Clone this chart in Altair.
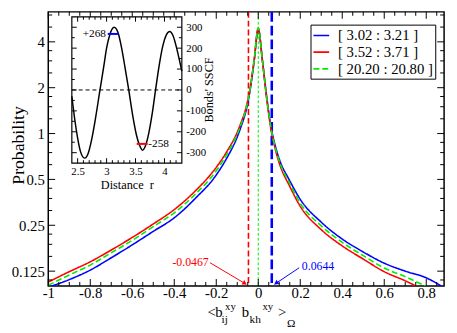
import altair as alt
import pandas as pd

# ---------------- data ----------------
series_names = ["[ 3.02 : 3.21 ]", "[ 3.52 : 3.71 ]", "[ 20.20 : 20.80 ]"]
series_colors = ["#0000ff", "#ff0000", "#00ee00"]

x_left = [-1.0, -0.9, -0.8, -0.7, -0.6, -0.5, -0.4, -0.3, -0.2, -0.15, -0.1, -0.08, -0.06, -0.04, -0.02, 0.0]
blue_left = [0.098, 0.110, 0.127, 0.153, 0.186, 0.228, 0.280, 0.375, 0.535, 0.69, 0.95, 1.13, 1.38, 1.88, 2.95, 4.85]
red_left = [0.106, 0.124, 0.144, 0.172, 0.208, 0.255, 0.317, 0.42, 0.60, 0.76, 1.02, 1.2, 1.45, 1.95, 3.0, 4.9]
green_left = [0.101, 0.118, 0.137, 0.165, 0.199, 0.245, 0.302, 0.40, 0.57, 0.73, 0.99, 1.17, 1.42, 1.92, 3.0, 4.95]

x_right = [0.02, 0.04, 0.06, 0.08, 0.1, 0.15, 0.2, 0.3, 0.4, 0.5, 0.6, 0.7, 0.8, 0.85, 0.9]
blue_right = [3.0, 1.75, 1.12, 0.84, 0.68, 0.49, 0.37, 0.262, 0.203, 0.167, 0.141, 0.125, 0.113, 0.104, 0.094]
red_right = [3.0, 1.7, 1.08, 0.80, 0.64, 0.45, 0.333, 0.234, 0.183, 0.150, 0.124, 0.108, 0.092, 0.084, 0.076]
green_right = [3.0, 1.72, 1.1, 0.82, 0.66, 0.47, 0.349, 0.248, 0.193, 0.158, 0.131, 0.115, 0.099, 0.091, 0.083]

marker_x = [-0.0467, 0.0, 0.0644]
marker_labels = ["-0.0467", "0.0644"]

# inset: bonds' SSCF vs distance
r_vals = [2.40, 2.45, 2.50, 2.55, 2.62, 2.68, 2.74, 2.80, 2.886, 2.95, 3.00, 3.06, 3.13, 3.20, 3.26, 3.32,
          3.383, 3.45, 3.52, 3.57, 3.62, 3.67, 3.73, 3.79, 3.846, 3.91, 3.97, 4.03, 4.09, 4.15, 4.21, 4.26, 4.30]
sscf_vals = [-30, -140, -230, -295, -326, -305, -240, -150, 0, 110, 200, 268, 300, 272, 200, 105,
             0, -120, -220, -265, -288, -268, -205, -110, 0, 120, 210, 262, 280, 258, 200, 140, 90]
seg_lo = [3.02, 3.52]
seg_hi = [3.21, 3.71]
seg_val = [268, -258]
seg_labels = ["+268", "-258"]

x_major = [-1.0, -0.8, -0.6, -0.4, -0.2, 0.0, 0.2, 0.4, 0.6, 0.8]
x_minor = [round(-1 + 0.05 * i, 2) for i in range(38) if i % 4 != 0]
y_major = [0.125, 0.25, 0.5, 1, 2, 4]
y_minor = [b * m for b in [0.0625, 0.125, 0.25, 0.5, 1, 2, 4] for m in (1.25, 1.5, 1.75) if 0.1 < b * m < 6.29]
ix_major = [2.5, 3.0, 3.5, 4.0]
ix_minor = [round(2.4 + 0.1 * i, 1) for i in range(1, 19) if round(2.4 + 0.1 * i, 1) not in ix_major]
iy_major = [-300, -200, -100, 0, 100, 200, 300]
iy_minor = [-250, -150, -50, 50, 150, 250]

# ---------------- layout ----------------
W, H = 403, 279
IX0, IX1, IY0, IY1 = 24, 136, 5, 154
FONT = "Liberation Serif"


def SX():
    return alt.Scale(domain=[-1, 0.885], nice=False, zero=False)


def SY():
    return alt.Scale(type="log", domain=[0.1, 6.29], nice=False)


def ISX():
    return alt.Scale(domain=[2.4, 4.3], range=[IX0, IX1], nice=False, zero=False)


def ISY():
    return alt.Scale(domain=[-350, 350], range=[IY1, IY0], nice=False, zero=False)


minus_fix = "replace(format(datum.value, '~g'), '\u2212', '-')"

rows = []
for name, xl, yl, xr, yr in [
    (series_names[0], x_left, blue_left, x_right, blue_right),
    (series_names[1], x_left, red_left, x_right, red_right),
    (series_names[2], x_left, green_left, x_right, green_right),
]:
    for a, b in zip(xl + xr, yl + yr):
        rows.append({"x": a, "p": b, "series": name})
df_curves = pd.DataFrame(rows)

leg = alt.Legend(title=None, orient="none", legendX=267, legendY=13, symbolType="stroke",
                 symbolSize=256, symbolStrokeWidth=1.6, labelFont=FONT, labelFontSize=15,
                 labelOffset=8, labelColor="black", strokeColor="black", fillColor="white",
                 padding=2, rowPadding=0, cornerRadius=0)

layers = []


def vline(xv, color, dash, width):
    return alt.Chart(pd.DataFrame({"x": [xv]})).mark_rule(color=color, strokeDash=dash, strokeWidth=width).encode(
        x=alt.X("x:Q", scale=SX(), axis=None))


layers += [
    vline(marker_x[0], "#ff0000", [6, 3], 1.6),
    vline(marker_x[1], "#00ee00", [3, 2], 1.0),
    vline(marker_x[2], "#0000ff", [10, 4], 2.6),
]

curves = alt.Chart(df_curves).mark_line(clip=True, strokeWidth=1.6, interpolate="monotone").encode(
    x=alt.X("x:Q", scale=SX(), axis=alt.Axis(
        values=x_major, labelExpr=minus_fix, ticks=False, domain=False, grid=False,
        labelFont=FONT, labelFontSize=15, labelPadding=0, labelColor="black", labelFlush=False,
        labelOverlap=False, title=None, orient="bottom")),
    y=alt.Y("p:Q", scale=SY(), axis=alt.Axis(
        values=y_major, labelExpr="format(datum.value, '~g')", ticks=False, domain=False,
        grid=False, labelFont=FONT, labelFontSize=15, labelPadding=4, labelColor="black",
        labelOverlap=False, labelFlush=False, orient="left", title=None)),
    color=alt.Color("series:N", scale=alt.Scale(domain=series_names, range=series_colors), legend=leg),
    strokeDash=alt.StrokeDash("series:N", scale=alt.Scale(domain=series_names, range=[[1, 0], [1, 0], [6, 3]]),
                              legend=leg),
)
layers.append(curves)

# arrows (annotation geometry)
arrow_tail = [(-0.23, 0.142), (0.195, 0.1315)]
arrow_tip = [(-0.0575, 0.1026), (0.078, 0.1026)]
arrow_head = [(-0.067, 0.1046), (0.0878, 0.1048)]
arrow_angle = [121, 236]
arrow_color = ["#ff0000", "#0000ff"]
text_pos = [(-0.236, 0.1437, "right"), (0.2075, 0.1354, "left")]

for i in range(2):
    dfl = pd.DataFrame({"x": [arrow_tail[i][0], arrow_tip[i][0]], "p": [arrow_tail[i][1], arrow_tip[i][1]]})
    layers.append(alt.Chart(dfl).mark_line(color=arrow_color[i], strokeWidth=1).encode(
        x=alt.X("x:Q", scale=SX(), axis=None), y=alt.Y("p:Q", scale=SY(), axis=None)))
    dfh = pd.DataFrame({"x": [arrow_head[i][0]], "p": [arrow_head[i][1]]})
    layers.append(alt.Chart(dfh).mark_point(shape="triangle", filled=True, size=28, opacity=1,
                                            color=arrow_color[i], angle=arrow_angle[i]).encode(
        x=alt.X("x:Q", scale=SX(), axis=None), y=alt.Y("p:Q", scale=SY(), axis=None)))
    dft = pd.DataFrame({"x": [text_pos[i][0]], "p": [text_pos[i][1]], "t": [marker_labels[i]]})
    layers.append(alt.Chart(dft).mark_text(font=FONT, fontSize=12, color=arrow_color[i], align=text_pos[i][2],
                                           baseline="middle").encode(
        x=alt.X("x:Q", scale=SX(), axis=None), y=alt.Y("p:Q", scale=SY(), axis=None), text="t:N"))


def xticks(vals, scale, ybase, length, inward_up):
    y2 = ybase - length if inward_up else ybase + length
    return alt.Chart(pd.DataFrame({"v": vals})).mark_rule(color="black", strokeWidth=1).encode(
        x=alt.X("v:Q", scale=scale, axis=None), y=alt.value(ybase), y2=alt.value(y2))


def yticks(vals, scale, xbase, length, inward_right):
    x2 = xbase + length if inward_right else xbase - length
    return alt.Chart(pd.DataFrame({"v": vals})).mark_rule(color="black", strokeWidth=1).encode(
        y=alt.Y("v:Q", scale=scale, axis=None), x=alt.value(xbase), x2=alt.value(x2))


layers += [
    xticks(x_major, SX(), H, 7, True), xticks(x_minor, SX(), H, 4, True),
    xticks(x_major, SX(), 0, 7, False), xticks(x_minor, SX(), 0, 4, False),
    yticks(y_major, SY(), 0, 7, True), yticks(y_minor, SY(), 0, 4, True),
    yticks(y_major, SY(), W, 7, False), yticks(y_minor, SY(), W, 4, False),
]

# ---------------- inset ----------------
layers.append(alt.Chart(pd.DataFrame({"x": [2.4], "x2": [4.3], "y": [-350], "y2": [350]})).mark_rect(
    fill="white", stroke="black", strokeWidth=1.2).encode(
    x=alt.X("x:Q", scale=ISX(), axis=None), x2="x2:Q", y=alt.Y("y:Q", scale=ISY(), axis=None), y2="y2:Q"))

layers.append(alt.Chart(pd.DataFrame({"x": [2.4], "x2": [4.3], "y": [0]})).mark_rule(
    color="black", strokeDash=[4, 3], strokeWidth=1).encode(
    x=alt.X("x:Q", scale=ISX(), axis=None), x2="x2:Q", y=alt.Y("y:Q", scale=ISY(), axis=None)))

layers.append(alt.Chart(pd.DataFrame({"r": r_vals, "s": sscf_vals})).mark_line(
    color="black", strokeWidth=1.5, interpolate="monotone").encode(
    x=alt.X("r:Q", scale=ISX(), axis=alt.Axis(
        orient="bottom", offset=IY1 - H, values=ix_major, labelExpr=minus_fix, domain=False, ticks=False,
        grid=False, labelPadding=3, labelFont=FONT, labelFontSize=11, labelColor="black",
        labelFlush=False, labelOverlap=False, title="Distance\u00a0 r", titleFont=FONT, titleFontSize=12.5,
        titleFontWeight="normal", titleColor="black", titlePadding=2)),
    y=alt.Y("s:Q", scale=ISY(), axis=alt.Axis(
        orient="right", offset=IX1 - W, values=iy_major, labelExpr=minus_fix, domain=False, ticks=False,
        grid=False, labelPadding=4, labelFont=FONT, labelFontSize=11, labelColor="black",
        labelFlush=False, labelOverlap=False, title=None)),
))

seg_colors = ["#0000ff", "#ff0000"]
for i in range(2):
    d = pd.DataFrame({"x": [seg_lo[i]], "x2": [seg_hi[i]], "y": [seg_val[i]]})
    layers.append(alt.Chart(d).mark_rule(color=seg_colors[i], strokeWidth=2).encode(
        x=alt.X("x:Q", scale=ISX(), axis=None), x2="x2:Q", y=alt.Y("y:Q", scale=ISY(), axis=None)))
seg_text_x = [2.99, 3.72]
seg_text_align = ["right", "left"]
for i in range(2):
    d = pd.DataFrame({"x": [seg_text_x[i]], "y": [seg_val[i]], "t": [seg_labels[i]]})
    layers.append(alt.Chart(d).mark_text(font=FONT, fontSize=11.5, color="black", align=seg_text_align[i],
                                         baseline="middle").encode(
        x=alt.X("x:Q", scale=ISX(), axis=None), y=alt.Y("y:Q", scale=ISY(), axis=None), text="t:N"))

layers += [
    xticks(ix_major, ISX(), IY1, 5, True), xticks(ix_minor, ISX(), IY1, 3, True),
    xticks(ix_major, ISX(), IY0, 5, False), xticks(ix_minor, ISX(), IY0, 3, False),
    yticks(iy_major, ISY(), IX0, 5, True), yticks(iy_minor, ISY(), IX0, 3, True),
    yticks(iy_major, ISY(), IX1, 5, False), yticks(iy_minor, ISY(), IX1, 3, False),
]

# ---------------- titles (rotated ones and the x title with sub/superscripts) ----------------
rot_titles = [("Probability", -30, 136, 18), ("Bonds' SSCF", 164, (IY0 + IY1) / 2, 12.5)]
for t, px, py, fs in rot_titles:
    layers.append(alt.Chart(pd.DataFrame({"t": [t]})).mark_text(
        font=FONT, fontSize=fs, color="black", align="center", baseline="middle", angle=270).encode(
        text="t:N", x=alt.value(px), y=alt.value(py)))

title_parts = [("<", 162, 311, 15), ("b", 170, 311, 15), ("ij", 176.5, 317, 11.5), ("xy", 180, 304, 11),
               ("b", 197, 311, 15), ("kh", 205, 317, 11.5), ("xy", 218, 304, 11), (">", 234, 311, 15),
               ("\u03a9", 243, 321, 11.5)]
for t, px, py, fs in title_parts:
    layers.append(alt.Chart(pd.DataFrame({"t": [t]})).mark_text(
        font=FONT, fontSize=fs, color="black", align="left", baseline="alphabetic").encode(
        text="t:N", x=alt.value(px), y=alt.value(py)))

chart = alt.layer(*layers).resolve_scale(
    x="independent", y="independent"
).resolve_axis(
    x="independent", y="independent"
).properties(
    width=W, height=H,
    padding={"left": 41, "top": 1, "right": 5, "bottom": 45},
    autosize=alt.AutoSizeParams(type="none"),
).configure_view(stroke="black", strokeWidth=1.5)

chart.save("out.html", embed_options={"renderer": "svg", "actions": False})
